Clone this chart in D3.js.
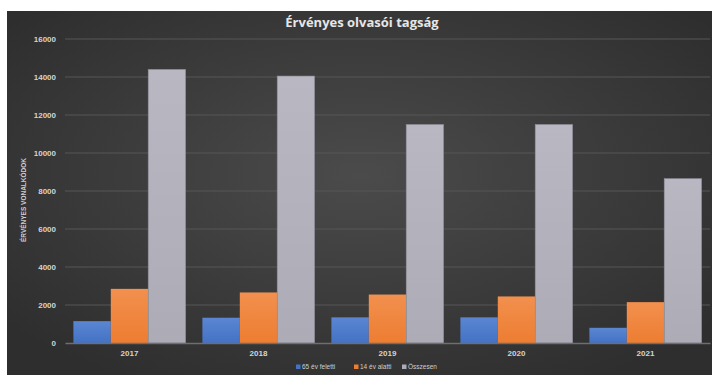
<!DOCTYPE html>
<html><head><meta charset="utf-8">
<script src="https://cdn.jsdelivr.net/npm/d3@7"></script>
<style>html,body{margin:0;padding:0;background:#fff;}svg{display:block;}</style>
</head><body>
<svg id="c" width="713" height="375"></svg>
<script>
const years = ["2017","2018","2019","2020","2021"];
const seriesNames = ["65 év feletti","14 év alatti","Összesen"];
const over65 = [1150, 1330, 1350, 1350, 800];
const under14 = [2850, 2660, 2550, 2450, 2150];
const total = [14400, 14050, 11500, 11500, 8650];
const yTicks = [0,2000,4000,6000,8000,10000,12000,14000,16000];
const colors = ["#4472c4","#ed7d31","#adacb6"];
const colorsLight = ["#5a86d2","#f2904e","#b8b7c2"];

const svg = d3.select("#c");
const defs = svg.append("defs");
const bg = defs.append("radialGradient").attr("id","bg").attr("cx","50%").attr("cy","45%").attr("r","65%");
bg.append("stop").attr("offset","0%").attr("stop-color","#4b4b4b");
bg.append("stop").attr("offset","100%").attr("stop-color","#2e2e2e");
colors.forEach((c,i)=>{
  const g = defs.append("linearGradient").attr("id","g"+i).attr("x1",0).attr("y1",0).attr("x2",0).attr("y2",1);
  g.append("stop").attr("offset","0%").attr("stop-color",colorsLight[i]);
  g.append("stop").attr("offset","100%").attr("stop-color",c);
});

svg.append("rect").attr("x",7).attr("y",11).attr("width",705).attr("height",364).attr("fill","url(#bg)");

const x0 = d3.scaleBand().domain(years).range([65,710]).paddingInner(0.13).paddingOuter(0.065);
const x1 = d3.scaleBand().domain([0,1,2]).range([0,x0.bandwidth()]);
const y = d3.scaleLinear().domain([0,16000]).range([343,39]);

// grid
svg.append("g").selectAll("line").data(yTicks.filter(t=>t>0)).join("line")
  .attr("x1",65).attr("x2",710).attr("y1",d=>y(d)).attr("y2",d=>y(d))
  .attr("stroke","#575757").attr("stroke-width",1);

const yAxis = d3.axisLeft(y).tickValues(yTicks).tickSize(0).tickPadding(0).tickFormat(d3.format("d"));
const ga = svg.append("g").attr("transform","translate(56,0)").call(yAxis);
ga.select(".domain").remove();
ga.selectAll("text").attr("fill","#d4d4d4").attr("font-size","8px").attr("font-weight","bold")
  .attr("font-family","Liberation Sans, Arial, sans-serif").attr("dy","0.32em");

const data = [over65, under14, total];
const groups = svg.append("g").selectAll("g").data(years).join("g")
  .attr("transform",d=>`translate(${x0(d)},0)`);
groups.selectAll("rect").data((d,i)=>data.map((s,k)=>({k, v:s[i]}))).join("rect")
  .attr("x",d=>x1(d.k)).attr("width",x1.bandwidth())
  .attr("y",d=>y(d.v)).attr("height",d=>y(0)-y(d.v))
  .attr("fill",d=>`url(#g${d.k})`)
  .attr("stroke",d=>d.k===2?"#8f8e98":"none").attr("stroke-width",0.6);

// x axis
const xAxis = d3.axisBottom(x0).tickSize(0).tickPadding(7);
const gx = svg.append("g").attr("transform",`translate(0,${y(0)})`).call(xAxis);
gx.select(".domain").attr("stroke","#6e6e6e").attr("stroke-width",1.5);
gx.selectAll("text").attr("fill","#d4d4d4").attr("font-size","8px").attr("font-weight","bold")
  .attr("font-family","Liberation Sans, Arial, sans-serif");

// title
svg.append("text").attr("x",362).attr("y",27).attr("text-anchor","middle")
  .attr("fill","#e6e6e6").attr("font-size","13px").attr("font-weight","bold")
  .attr("font-family","Open Sans, DejaVu Sans, sans-serif").text("Érvényes olvasói tagság");

// y title
svg.append("text").attr("transform","translate(26,200) rotate(-90)").attr("text-anchor","middle")
  .attr("fill","#cfcfcf").attr("font-size","6.5px").attr("font-weight","bold")
  .attr("font-family","Liberation Sans Narrow, Liberation Sans, sans-serif").text("ÉRVÉNYES VONALKÓDOK");

// legend
const legX = [296, 354, 402];
const lg = svg.append("g").selectAll("g").data(seriesNames).join("g")
  .attr("transform",(d,i)=>`translate(${legX[i]},369)`);
lg.append("rect").attr("x",0).attr("y",-4.5).attr("width",4.5).attr("height",4.5).attr("fill",(d,i)=>colors[i]);
lg.append("text").attr("x",6).attr("y",0).attr("fill","#cfcfcf").attr("font-size","6.5px")
  .attr("font-family","Liberation Sans Narrow, Liberation Sans, sans-serif").text(d=>d);
</script>
</body></html>
